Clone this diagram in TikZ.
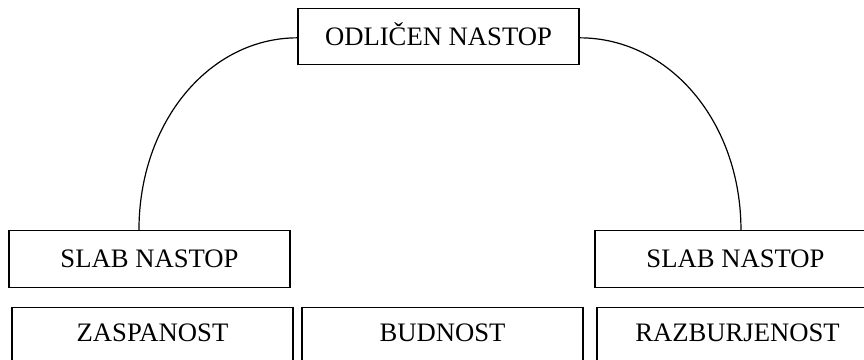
\documentclass[tikz,border=0pt]{standalone}
\usepackage{fontspec}
\setmainfont{Liberation Serif}
\tikzset{
  box/.style={draw, line width=0.9pt, minimum width=210.75pt, minimum height=42.5pt,
    text height=13.2pt, text depth=0pt, inner sep=0pt, font=\fontsize{20}{24}\selectfont},
  lowbox/.style={box, anchor=north, minimum height=0pt, inner ysep=12.5pt, text depth=30pt},
  link/.style={line width=0.9pt},
}
\begin{document}
\begin{tikzpicture}[x=0.75pt,y=0.75pt,yscale=-1,xscale=1]
\useasboundingbox (0,0) rectangle (864,360);
\clip (0,0) rectangle (864,360);

% Boxes
\node [box] (odlicen) at (438.5,36.5) {ODLIČEN NASTOP};
\node [box] (slabL) at (149.5,259) {SLAB NASTOP};
\node [box] (slabR) at (735.5,259) {SLAB NASTOP};
\node [lowbox] (zaspanost) at (152.5,307) {ZASPANOST};
\node [lowbox] (budnost) at (442.5,307) {BUDNOST};
\node [lowbox] (razburjenost) at (737.5,307) {RAZBURJENOST};

% Arcs
\coordinate (endL) at ([xshift=-7.9pt]slabL.north);
\coordinate (endR) at ([xshift=4.1pt]slabR.north);
\draw [link] ([yshift=1pt]odlicen.west) .. controls +(-88,0) and +(0,-108) .. (endL);
\draw [link] ([yshift=1pt]odlicen.east) .. controls +(90,0) and +(0,-108) .. (endR);
\end{tikzpicture}
\end{document}
